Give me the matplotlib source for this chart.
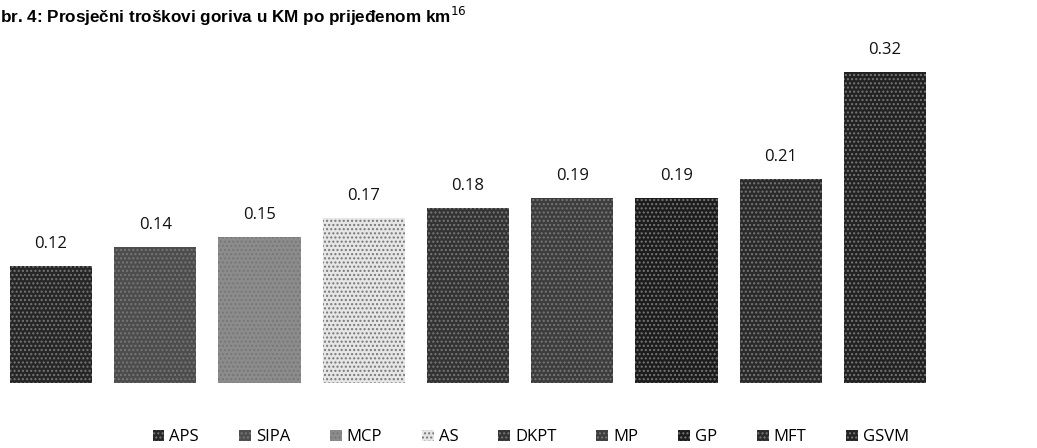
import numpy as np
import matplotlib.pyplot as plt

labels = ['APS', 'SIPA', 'MCP', 'AS', 'DKPT', 'MP', 'GP', 'MFT', 'GSVM']
values = [0.12, 0.14, 0.15, 0.17, 0.18, 0.19, 0.19, 0.21, 0.32]
shades = ['#262626', '#4d4d4d', '#8c8c8c', '#e6e6e6', '#333333',
          '#3d3d3d', '#1c1c1c', '#2a2a2a', '#222222']

plt.rcParams['font.family'] = ['Open Sans', 'DejaVu Sans']

fig = plt.figure(figsize=(10.37, 4.48), dpi=100)
ax = fig.add_axes([0, 0.145, 1, 0.775])

x = np.arange(len(labels))
for i, (lab, v, c) in enumerate(zip(labels, values, shades)):
    ax.bar(x[i], v, width=0.79, color=c, label=lab,
           hatch='....', edgecolor='#777777', linewidth=0)
    ax.annotate(f'{v:.2f}', (x[i], v), xytext=(0, 10), textcoords='offset points',
                ha='center', va='bottom', fontsize=12, color='#111111')

ax.set_xlim(-0.489, 9.458)
ax.set_ylim(0, 0.357)
ax.axis('off')

fig.text(0.0, 0.99, 'br. 4: Prosječni troškovi goriva u KM po prijeđenom km$^{16}$',
         ha='left', va='top', fontsize=12.3, fontweight='bold',
         family=['Liberation Sans', 'DejaVu Sans'])

fig.legend(loc='center', bbox_to_anchor=(0.512, 0.024), ncol=9, frameon=False,
           fontsize=12, handlelength=0.7, handleheight=0.7, handletextpad=0.3,
           columnspacing=2.4)

fig.savefig('out.png', dpi=100)
